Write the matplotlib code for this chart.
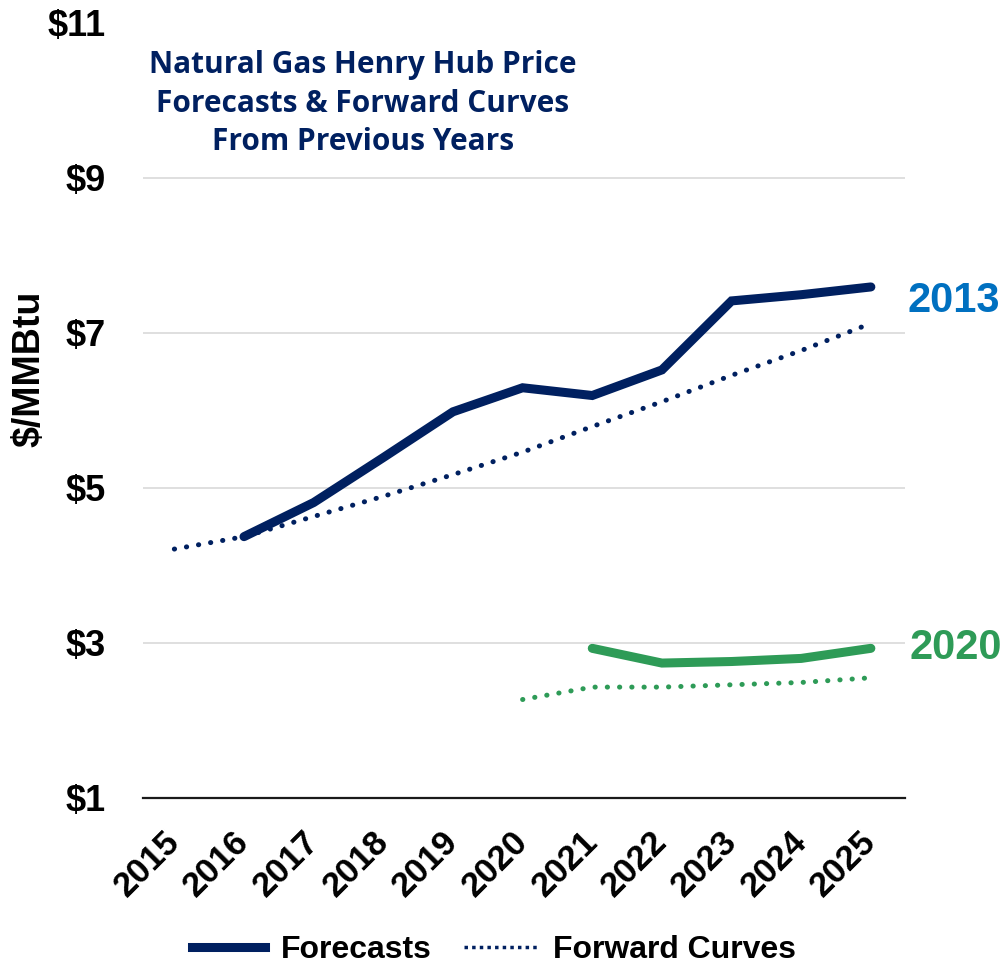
import matplotlib.pyplot as plt
import numpy as np
from matplotlib.lines import Line2D

# donnees ($/MMBtu)
years = ['2015', '2016', '2017', '2018', '2019', '2020',
         '2021', '2022', '2023', '2024', '2025']
nan = np.nan
forecast_2013 = [nan, 4.37, 4.81, 5.39, 5.98, 6.29, 6.19, 6.52, 7.41, 7.49, 7.59]
forward_2013 = [4.21, 4.37, 4.63, 4.89, 5.17, 5.46, 5.79, 6.11, 6.45, 6.77, 7.12]
forecast_2020 = [nan, nan, nan, nan, nan, nan, 2.93, 2.74, 2.76, 2.80, 2.93]
forward_2020 = [nan, nan, nan, nan, nan, 2.27, 2.43, 2.43, 2.46, 2.49, 2.55]
yticks = [1, 3, 5, 7, 9, 11]
title_lines = ['Natural Gas Henry Hub Price',
               'Forecasts & Forward Curves',
               'From Previous Years']

navy = '#002060'
blue = '#0070C0'
green = '#2E9B57'
font = 'Liberation Sans'

fig = plt.figure(figsize=(10.05, 9.64), dpi=100)
ax = fig.add_axes([143/1005, 1 - 798/964, (905-143)/1005, (798-22.5)/964])

x = np.arange(len(years))
dots = (0.05, 2.4)

# courbes forward (pointilles) puis previsions (traits pleins)
ax.plot(x, forward_2013, color=navy, lw=3.6, dashes=dots,
        dash_capstyle='round', zorder=3)
ax.plot(x, forward_2020, color=green, lw=3.6, dashes=dots,
        dash_capstyle='round', zorder=3)
ax.plot(x, forecast_2013, color=navy, lw=6.5, solid_capstyle='round',
        solid_joinstyle='miter', zorder=4)
ax.plot(x, forecast_2020, color=green, lw=6.5, solid_capstyle='round',
        solid_joinstyle='miter', zorder=4)

ax.set_xlim(-0.45, 10.49)
ax.set_ylim(1, 11)
ax.set_yticks(yticks)
ax.set_yticklabels(['$' + str(v) for v in yticks], fontfamily=font,
                   fontweight='bold', fontsize=26)
ax.set_xticks(x)
ax.set_xticklabels(years, rotation=45, ha='right', va='center',
                   rotation_mode='anchor', fontfamily=font,
                   fontweight='bold', fontsize=25)
ax.tick_params(axis='y', length=0, pad=27)
ax.tick_params(axis='x', length=0, pad=28)

ax.grid(axis='y', color='#D9D9D9', lw=1.2)
ax.set_axisbelow(True)
for s in ['left', 'right', 'top']:
    ax.spines[s].set_visible(False)
ax.spines['bottom'].set_color('#1a1a1a')
ax.spines['bottom'].set_linewidth(1.6)

# etiquettes des annees de publication
ax.text(10.53, 7.41, '2013', color=blue, fontsize=30, fontweight='bold',
        fontfamily=font, ha='left', va='center')
ax.text(10.55, 2.93, '2020', color=green, fontsize=30, fontweight='bold',
        fontfamily=font, ha='left', va='center')

fig.text(29/1005, 1 - 369/964, '$/MMBtu', rotation=90, fontsize=27,
         fontweight='bold', fontfamily=font, ha='center', va='center')

for i, line in enumerate(title_lines):
    fig.text(363/1005, 1 - (73 + 38.5*i)/964, line, color=navy, fontsize=21.5,
             fontweight='bold', fontfamily='Open Sans', ha='center',
             va='baseline')

handles = [Line2D([], [], color=navy, lw=6.5),
           Line2D([], [], color=navy, lw=2.5, dashes=(1, 1.2))]
fig.legend(handles, ['Forecasts', 'Forward Curves'], loc='center',
           bbox_to_anchor=(494/1005, 1 - 950/964), ncol=2, frameon=False,
           handlelength=2.3, handletextpad=0.5, columnspacing=1.0,
           borderpad=0, prop={'family': font, 'weight': 'bold', 'size': 23})

fig.savefig('out.png', dpi=100)
